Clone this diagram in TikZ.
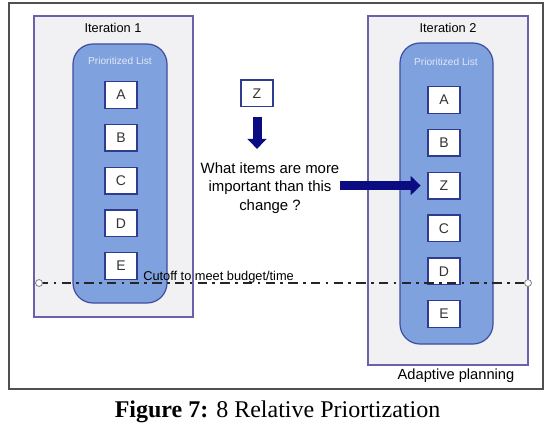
\documentclass[tikz,border=0pt]{standalone}
\usepackage{fontspec}
\setmainfont{Liberation Serif}
\setsansfont{Liberation Sans}
\usetikzlibrary{arrows.meta}

\definecolor{framegray}{HTML}{505050}
\definecolor{iterfill}{HTML}{F1F1F3}
\definecolor{iterline}{HTML}{6A62A8}
\definecolor{listfill}{HTML}{7FA1DD}
\definecolor{listline}{HTML}{3F4CA0}
\definecolor{itemline}{HTML}{2E3B8E}
\definecolor{listtext}{HTML}{E2E8F8}
\definecolor{navyblue}{HTML}{0B0B82}

\begin{document}
\begin{tikzpicture}[x=0.75pt,y=-0.75pt,font=\sffamily,
        iterbox/.style={draw=iterline,fill=iterfill,line width=0.9pt},
        listbox/.style={draw=listline,fill=listfill,line width=0.9pt,rounded corners=15pt},
        item/.style={draw=itemline,fill=white,line width=1pt,minimum width=24pt,
            minimum height=20pt,inner sep=0pt,text=black!80,
            font=\sffamily\fontsize{10.5}{12}\selectfont},
        bigarrow/.style={navyblue,line width=6.75pt,-{Triangle[width=14pt,length=7.5pt]}}]
    \useasboundingbox (0,0) rectangle (555,431);
    \draw[framegray,line width=1.1pt] (9,3) rectangle (543,389);

    % iteration frames and their lists
    \draw[iterbox] (34,16) rectangle (193,317);
    \draw[iterbox] (368,16) rectangle (528,365);
    \draw[listbox] (73,44) rectangle (167,303);
    \draw[listbox] (400,43) rectangle (493,344);
    \node[font=\sffamily\fontsize{9.6}{11}\selectfont] (iter1) at (113,28) {Iteration 1};
    \node[font=\sffamily\fontsize{9.6}{11}\selectfont] (iter2) at (448,28) {Iteration 2};
    \node[font=\sffamily\fontsize{7.6}{9}\selectfont,text=listtext] (plist1) at (120,61) {Prioritized List};
    \node[font=\sffamily\fontsize{7.6}{9}\selectfont,text=listtext] (plist2) at (446,62) {Prioritized List};
    \node[font=\sffamily\fontsize{11}{13}\selectfont] (adapt) at (456,376) {Adaptive planning};

    \foreach \t [count=\i from 0] in {A,B,C,D,E}
        \node[item] (l\t) at (121,{95+42.75*\i}) {\t};
    \foreach \t [count=\i from 0] in {A,B,Z,C,D,E}
        \node[item] (r\t) at (444,{100+42.8*\i}) {\t};

    % the new item
    \node[item] (newZ) at (257,93.5) {Z};
    \node[align=center,inner sep=0pt,font=\sffamily\fontsize{11.2}{13.9}\selectfont] (ask)
        at (270,188) {What items are more\\important than this\\change ?};
    \draw[bigarrow,shorten <=7pt,shorten >=10pt] (newZ.south) -- (newZ.south |- ask.north);
    \draw[bigarrow,shorten >=5pt] (ask.east |- rZ) -- (rZ.west);

    % cutoff
    \coordinate (cutL) at (39,283);
    \coordinate (cutR) at (528,283);
    \draw[black!85,line width=1.7pt,dash pattern=on 7pt off 4pt on 2pt off 4pt] (cutL) -- (cutR);
    \foreach \c in {cutL,cutR}
        \draw[gray,fill=white,line width=0.6pt] (\c) circle[radius=2.6pt];
    \node[anchor=base west,inner sep=0pt,font=\sffamily\fontsize{9.6}{11}\selectfont] (cutoff)
        at (143,280) {Cutoff to meet budget/time};

    \node[anchor=base,font=\rmfamily\fontsize{18}{20}\selectfont] (caption)
        at (277.5,417) {\textbf{Figure 7:} 8 Relative Priortization};
\end{tikzpicture}
\end{document}
